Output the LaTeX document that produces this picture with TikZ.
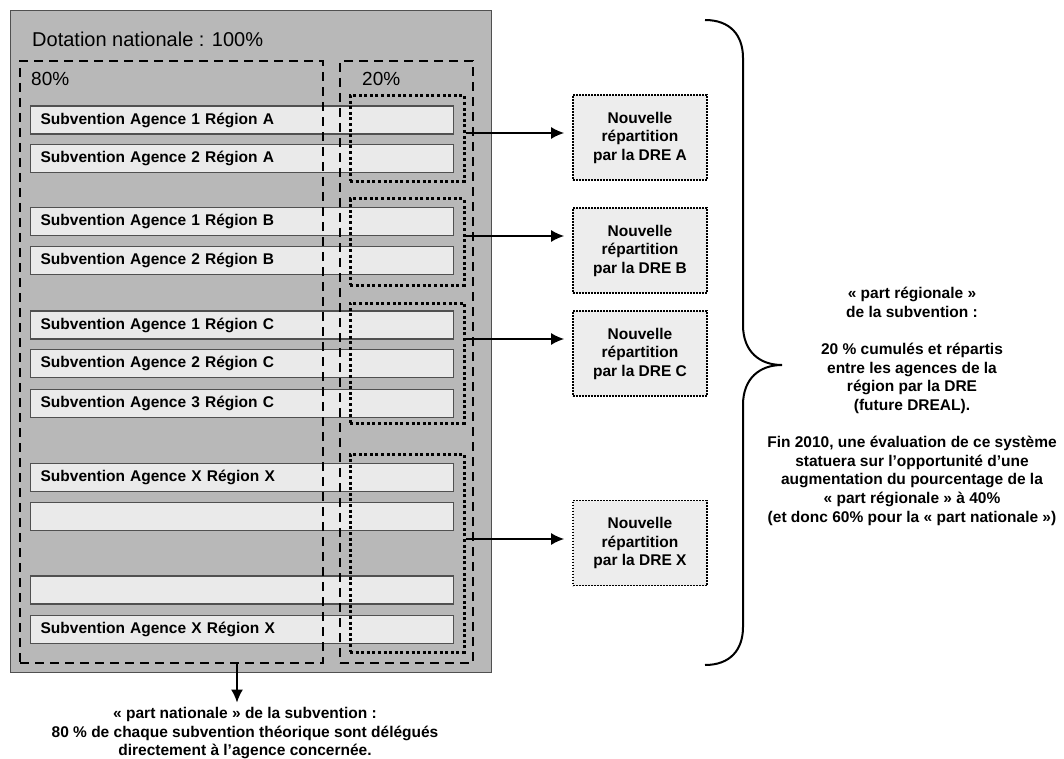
\documentclass[tikz,border=0pt]{standalone}
\usepackage{fontspec}
\setmainfont{Liberation Sans}
\usetikzlibrary{positioning,arrows.meta}
\definecolor{dotgray}{RGB}{184,184,184}
\definecolor{rowgray}{RGB}{234,234,234}
\definecolor{boxgray}{RGB}{237,237,237}
\definecolor{edgegray}{RGB}{80,80,80}
\tikzstyle{every node}+=[inner sep=0pt,font=\bfseries\fontsize{15.5}{18.5}\selectfont]
\tikzstyle{row}=[draw=edgegray,line width=1.3pt,fill=rowgray,minimum height=28pt,text width=403pt,inner xsep=10pt,align=left,anchor=west]
\tikzstyle{share}=[draw,dash pattern=on 9pt off 6pt,line width=1.8pt,minimum height=602pt]
\tikzstyle{grp}=[draw=black,dash pattern=on 3pt off 2.6pt,line width=3pt,minimum width=114pt]
\tikzstyle{dre}=[draw,fill=boxgray,dash pattern=on 1.6pt off 1.4pt,line width=1.8pt,minimum width=134pt,minimum height=85pt,align=center]
\tikzstyle{arr}=[line width=1.5pt,-{Latex[length=13pt,width=12pt]}]
\tikzstyle{big}=[font=\fontsize{20}{24}\selectfont]

\begin{document}
\begin{tikzpicture}[x=1pt,y=-1pt]
\useasboundingbox (0,0) rectangle (1064,759);

\node[draw=edgegray,fill=dotgray,line width=1pt,minimum width=481pt,minimum height=661pt] (dot) at (250.5,341.5) {};
\node[big,anchor=west] (title) at (32,39) {Dotation nationale : 100\%};

\node[row] (a1) at (30,120) {Subvention Agence 1 Région A};
\node[row,below=9pt of a1] (a2) {Subvention Agence 2 Région A};
\node[row] (b1) at (30,221.5) {Subvention Agence 1 Région B};
\node[row,below=9.5pt of b1] (b2) {Subvention Agence 2 Région B};
\node[row] (c1) at (30,325) {Subvention Agence 1 Région C};
\node[row,below=9.5pt of c1] (c2) {Subvention Agence 2 Région C};
\node[row,below=10.5pt of c2] (c3) {Subvention Agence 3 Région C};
\node[row] (x1) at (30,477.5) {Subvention Agence X Région X};
\node[row,below=9.5pt of x1] (x2) {};
\node[row] (x3) at (30,590) {};
\node[row,below=10pt of x3] (x4) {Subvention Agence X Région X};

\node[share,minimum width=303pt] (nat) at (171.5,362) {};
\node[share,minimum width=133pt] (reg) at (406.5,362) {};
\node[big,anchor=west,font=\fontsize{19}{22}\selectfont] (p80) at (31,79) {80\%};
\node[big,anchor=west,font=\fontsize{19}{22}\selectfont] (p20) at (362,79) {20\%};

\node[grp,minimum height=86pt] (ga) at (407,138.5) {};
\node[grp,minimum height=86pt] (gb) at (407,242) {};
\node[grp,minimum height=120pt] (gc) at (407,363) {};
\node[grp,minimum height=198pt] (gx) at (407,553) {};

\node[dre] (da) at (640,137.5) {Nouvelle\\répartition\\par la DRE A};
\node[dre] (db) at (640,250.5) {Nouvelle\\répartition\\par la DRE B};
\node[dre] (dc) at (640,353.5) {Nouvelle\\répartition\\par la DRE C};
\node[dre] (dx) at (640,543) {Nouvelle\\répartition\\par la DRE X};

\coordinate (pa) at ([yshift=4.5pt]da.west);
\coordinate (pb) at ([yshift=14.5pt]db.west);
\coordinate (pc) at ([yshift=14.5pt]dc.west);
\coordinate (px) at ([yshift=4pt]dx.west);
\draw[arr,shorten >=8pt] (pa -| ga.east) -- (pa);
\draw[arr,shorten >=8pt] (pb -| gb.east) -- (pb);
\draw[arr,shorten >=8pt] (pc -| gc.east) -- (pc);
\draw[arr,shorten >=8pt] (px -| gx.east) -- (px);

\node[align=center] (natxt) at (245,733.5) {« part nationale » de la subvention :\\80 \% de chaque subvention théorique sont délégués\\directement à l’agence concernée.};
\coordinate (pn) at ([xshift=-8pt]natxt.north);
\draw[arr,shorten >=5pt] (pn |- nat.south) -- (pn);

\draw[line width=2pt] (705,20) .. controls (730,20) and (743,35) .. (743,58) -- (743,325)
  .. controls (743,352) and (760,365) .. (782,365) .. controls (760,365) and (743,378) .. (743,405)
  -- (743,627) .. controls (743,650) and (730,665) .. (705,665);

\node[align=center,font=\bfseries\fontsize{15.5}{18.6}\selectfont] (regtxt) at (912,406.5) {« part régionale »\\de la subvention :\\[18.6pt]20 \% cumulés et répartis\\entre les agences de la\\région par la DRE\\(future DREAL).\\[18.6pt]Fin 2010, une évaluation de ce système\\statuera sur l’opportunité d’une\\augmentation du pourcentage de la\\« part régionale » à 40\%\\(et donc 60\% pour la « part nationale »)};
\end{tikzpicture}
\end{document}
